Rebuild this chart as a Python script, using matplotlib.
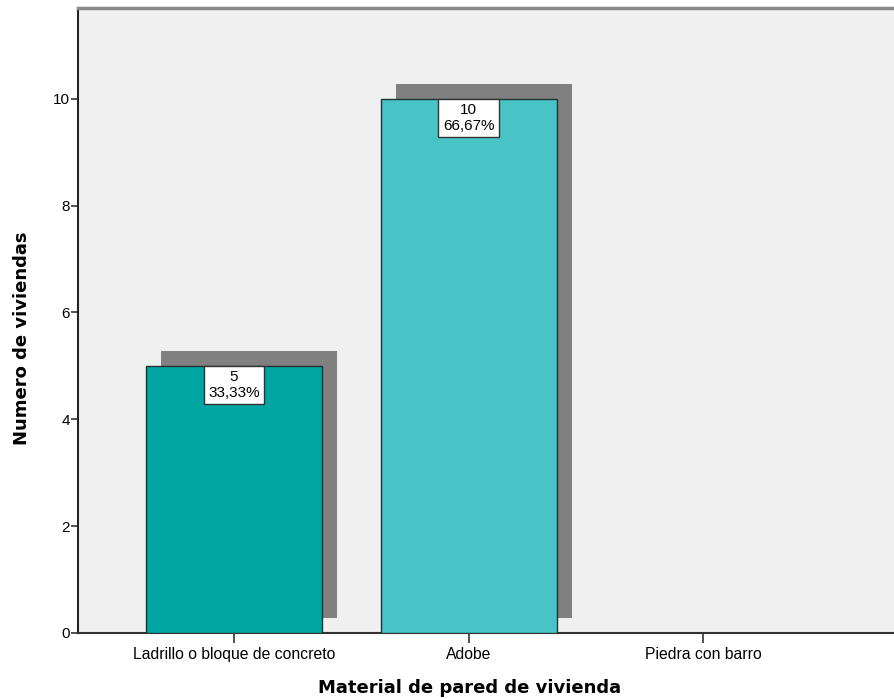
import matplotlib
matplotlib.use("Agg")
import matplotlib.pyplot as plt

categories = ["Ladrillo o bloque de concreto", "Adobe", "Piedra con barro"]
counts = [5, 10, 0]
percents = ["33,33%", "66,67%", ""]
bar_colors = ["#00A6A1", "#48C3C6", "#48C3C6"]
yticks = [0, 2, 4, 6, 8, 10]

plt.rcParams['font.family'] = ['Liberation Sans', 'DejaVu Sans']

W, H = 894, 699
fig = plt.figure(figsize=(W / 100, H / 100), dpi=100)
ax_left, ax_right, ax_bottom, ax_top = 78, 894, 633, 8
ax = fig.add_axes([ax_left / W, 1 - ax_bottom / H, (ax_right - ax_left) / W, (ax_bottom - ax_top) / H])
ax.set_facecolor("#F0F0F0")

x0_px, step_px = 234, 234.5
xmin = (ax_left - x0_px) / step_px
xmax = (ax_right - x0_px) / step_px
ax.set_xlim(xmin, xmax)
ymax = 11.7
ax.set_ylim(0, ymax)

px_per_y = (ax_bottom - ax_top) / ymax
dx = 15 / step_px
dy = 15 / px_per_y
width = 176 / step_px

xs = list(range(len(categories)))
for i, (c, col) in enumerate(zip(counts, bar_colors)):
    if c <= 0:
        continue
    ax.bar(i + dx, c, width=width, bottom=dy, color="#808080", edgecolor="none", zorder=2)
    ax.bar(i, c, width=width, color=col, edgecolor="#1E3333", linewidth=1.0, zorder=3)
    ax.text(i, c - 4.5 / px_per_y, f"{c}\n{percents[i]}", ha="center", va="top", fontsize=11,
            linespacing=1.12, zorder=5,
            bbox=dict(boxstyle="square,pad=0.28", facecolor="white", edgecolor="#333333", linewidth=1.0))

ax.set_xticks(xs)
ax.set_xticklabels(categories, fontsize=11.3)
ax.set_yticks(yticks)
ax.set_yticklabels([str(t) for t in yticks], fontsize=11)
ax.tick_params(axis="x", length=7, width=1.2, color="#333333", pad=3)
ax.tick_params(axis="y", length=5, width=1.2, color="#333333", pad=1)

ax.spines["right"].set_visible(False)
ax.spines["top"].set_color("#8A8A8A")
ax.spines["top"].set_linewidth(2.5)
ax.spines["left"].set_color("#222222")
ax.spines["left"].set_linewidth(1.5)
ax.spines["bottom"].set_color("#333333")
ax.spines["bottom"].set_linewidth(1.5)

fig.text(470 / W, 1 - 688 / H, "Material de pared de vivienda", ha="center", va="center",
         fontsize=13, fontweight="bold", family="DejaVu Sans")
fig.text(22 / W, 1 - 338 / H, "Numero de viviendas", ha="center", va="center",
         fontsize=13, fontweight="bold", rotation=90, family="DejaVu Sans")

fig.savefig("out.png", dpi=100)
